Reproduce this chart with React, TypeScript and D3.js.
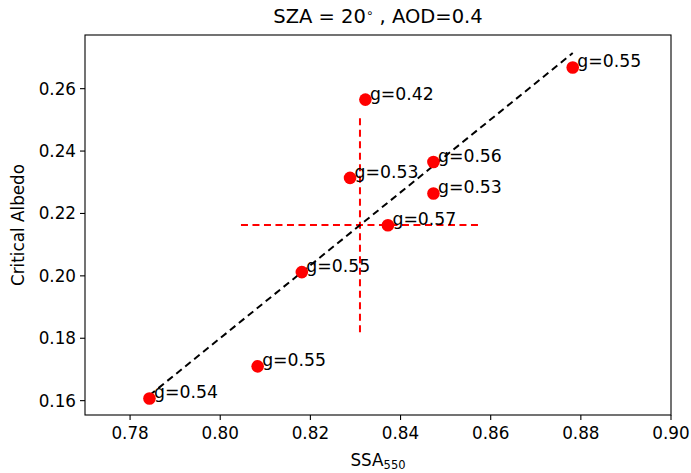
import { useEffect } from "react";
import * as d3 from "d3";

// scatter points (SSA at 550nm vs critical albedo), with asymmetry labels
const ssa = [0.7843, 0.8083, 0.8181, 0.8372, 0.8288, 0.8322, 0.8473, 0.8473, 0.8782];
const albedo = [0.1607, 0.171, 0.2012, 0.2162, 0.2314, 0.2565, 0.2365, 0.2264, 0.2668];
const gLabels = ["g=0.54", "g=0.55", "g=0.55", "g=0.57", "g=0.53", "g=0.42", "g=0.56", "g=0.53", "g=0.55"];

// fit line end points
const fitX = [0.7843, 0.8782];
const fitY = [0.1617, 0.2714];

// mean +/- spread crosshair
const crossX = [0.8046, 0.858];
const crossY = [0.1806, 0.2505];
const crossCenter = [0.831, 0.2163];

const xTicks = [0.78, 0.8, 0.82, 0.84, 0.86, 0.88, 0.9];
const yTicks = [0.16, 0.18, 0.2, 0.22, 0.24, 0.26];

const width = 691;
const height = 473;
const margin = { top: 35, right: 20, bottom: 58, left: 85 };
const font = "DejaVu Sans, sans-serif";

export default function App() {
  useEffect(() => {
    document.body.style.margin = "0";
  }, []);

  const x = d3
    .scaleLinear()
    .domain([0.77, 0.9])
    .range([margin.left, width - margin.right]);
  const y = d3
    .scaleLinear()
    .domain([0.1554, 0.2772])
    .range([height - margin.bottom, margin.top]);

  const line = d3
    .line<number>()
    .x((d) => x(fitX[d]))
    .y((d) => y(fitY[d]));

  const x0 = margin.left;
  const x1 = width - margin.right;
  const y0 = height - margin.bottom;
  const y1 = margin.top;

  return (
    <svg width={width} height={height} style={{ display: "block" }} fontFamily={font}>
      <rect width={width} height={height} fill="#fff" />
      <text x={(x0 + x1) / 2} y={23} textAnchor="middle" fontSize={19.5} fill="#000">
        SZA = 20<tspan fontSize={12} dy={-6}>∘</tspan>
        <tspan dy={6}> , AOD=0.4</tspan>
      </text>

      {/* crosshair */}
      <line
        x1={x(crossX[0])}
        x2={x(crossX[1])}
        y1={y(crossCenter[1])}
        y2={y(crossCenter[1])}
        stroke="red"
        strokeWidth={2}
        strokeDasharray="7,4.5"
      />
      <line
        x1={x(crossCenter[0])}
        x2={x(crossCenter[0])}
        y1={y(crossY[1])}
        y2={y(crossY[0])}
        stroke="red"
        strokeWidth={2}
        strokeDasharray="7,4.5"
      />

      {/* fit line */}
      <path d={line([0, 1]) || ""} fill="none" stroke="#000" strokeWidth={2} strokeDasharray="7,4.5" />

      {ssa.map((d, i) => (
        <circle key={i} cx={x(d)} cy={y(albedo[i])} r={6.3} fill="red" />
      ))}
      {ssa.map((d, i) => (
        <text key={"t" + i} x={x(d + 0.001)} y={y(albedo[i])} fontSize={17.3} fill="#000">
          {gLabels[i]}
        </text>
      ))}

      {/* frame */}
      <rect x={x0} y={y1} width={x1 - x0} height={y0 - y1} fill="none" stroke="#000" strokeWidth={1.1} />

      {xTicks.map((t) => (
        <g key={t} transform={`translate(${x(t)},${y0})`}>
          <line y2={5} stroke="#000" strokeWidth={1.1} />
          <text y={24} textAnchor="middle" fontSize={16.8} fill="#000">
            {t.toFixed(2)}
          </text>
        </g>
      ))}
      {yTicks.map((t) => (
        <g key={t} transform={`translate(${x0},${y(t)})`}>
          <line x2={-5} stroke="#000" strokeWidth={1.1} />
          <text x={-9} dy="0.35em" textAnchor="end" fontSize={16.8} fill="#000">
            {t.toFixed(2)}
          </text>
        </g>
      ))}

      <text x={(x0 + x1) / 2} y={466} textAnchor="middle" fontSize={16.8} fill="#000">
        SSA<tspan fontSize={11.5} dy={3}>550</tspan>
      </text>
      <text
        transform={`translate(24,${(y0 + y1) / 2}) rotate(-90)`}
        textAnchor="middle"
        fontSize={16.8}
        fill="#000"
      >
        Critical Albedo
      </text>
    </svg>
  );
}
